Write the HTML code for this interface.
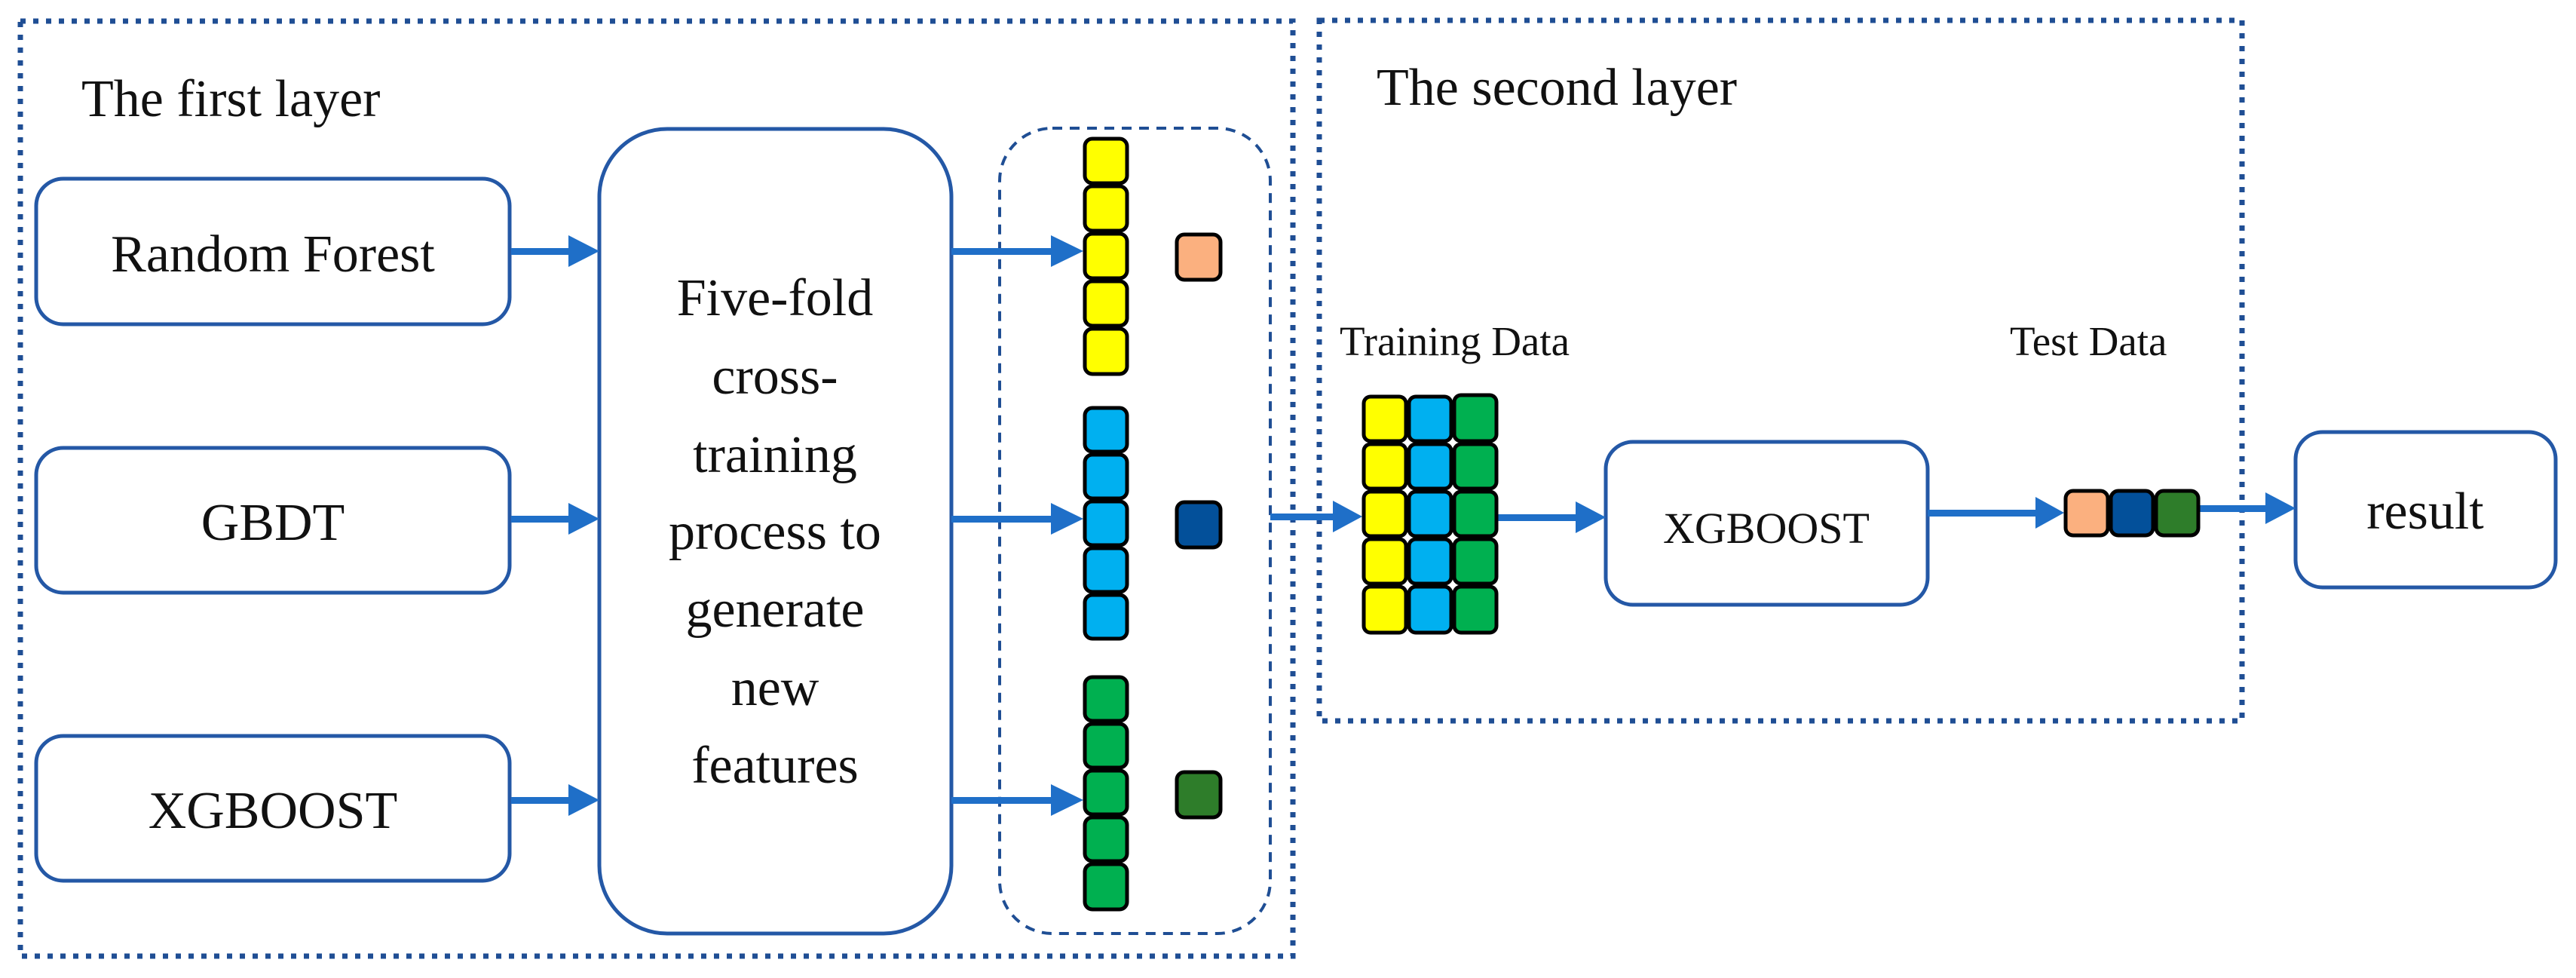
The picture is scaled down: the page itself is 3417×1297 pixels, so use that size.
<!DOCTYPE html>
<html><head><meta charset="utf-8"><style>
html,body{margin:0;padding:0;background:#fff;}
svg{display:block;}
text{font-family:"Liberation Serif",serif;fill:#111;}
</style></head><body>
<svg width="3417" height="1297" viewBox="0 0 3417 1297" xmlns="http://www.w3.org/2000/svg">
<defs>
<marker id="ah" markerWidth="10" markerHeight="10" refX="0" refY="5" orient="auto" markerUnits="userSpaceOnUse" viewBox="0 0 10 10">
</marker>
</defs>
<!-- dotted layer boxes -->
<rect x="27" y="28" width="1688" height="1240" fill="none" stroke="#1f4e94" stroke-width="7" stroke-dasharray="7 10"/>
<rect x="1750" y="27" width="1224" height="929" fill="none" stroke="#1f4e94" stroke-width="7" stroke-dasharray="7 10"/>

<text x="108" y="154" font-size="70">The first layer</text>
<text x="1826" y="139" font-size="70">The second layer</text>

<!-- left boxes -->
<g fill="#fff" stroke="#2458a6" stroke-width="5">
<rect x="48" y="237" width="628" height="193" rx="36"/>
<rect x="48" y="594" width="628" height="192" rx="36"/>
<rect x="48" y="976" width="628" height="192" rx="36"/>
<rect x="795" y="171" width="467" height="1067" rx="90"/>
<rect x="2130" y="586" width="427" height="216" rx="36"/>
<rect x="3045" y="573" width="345" height="206" rx="36"/>
</g>
<rect x="1326" y="170" width="359" height="1068" rx="70" fill="none" stroke="#1f4e94" stroke-width="4" stroke-dasharray="13 10"/>

<g font-size="70" text-anchor="middle">
<text x="362" y="360">Random Forest</text>
<text x="362" y="716">GBDT</text>
<text x="362" y="1098">XGBOOST</text>
<text x="1028" y="418">Five-fold</text>
<text x="1028" y="522">cross-</text>
<text x="1028" y="626">training</text>
<text x="1028" y="728">process to</text>
<text x="1028" y="831">generate</text>
<text x="1028" y="935">new</text>
<text x="1028" y="1038">features</text>
<text x="2343" y="720" font-size="58">XGBOOST</text>
<text x="3217" y="701">result</text>
</g>
<text x="1777" y="471" font-size="55">Training Data</text>
<text x="2666" y="471" font-size="55">Test Data</text>

<!-- arrows -->
<g fill="#1f6fc8" stroke="none">
<rect x="678" y="329" width="80" height="9"/><polygon points="754,312 795,333 754,354"/>
<rect x="678" y="684" width="80" height="9"/><polygon points="754,667 795,688 754,709"/>
<rect x="678" y="1057" width="80" height="9"/><polygon points="754,1040 795,1061 754,1082"/>
<rect x="1262" y="329" width="136" height="9"/><polygon points="1394,312 1437,333 1394,354"/>
<rect x="1262" y="684" width="136" height="9"/><polygon points="1394,667 1437,688 1394,709"/>
<rect x="1262" y="1057" width="136" height="9"/><polygon points="1394,1040 1437,1061 1394,1082"/>
<rect x="1685" y="681" width="86" height="9"/><polygon points="1768,664 1807,685 1768,706"/>
<rect x="1987" y="682" width="105" height="9"/><polygon points="2090,665 2130,686 2090,707"/>
<rect x="2557" y="676" width="145" height="9"/><polygon points="2700,659 2738,680 2700,701"/>
<rect x="2918" y="670" width="90" height="9"/><polygon points="3005,653 3045,674 3005,695"/>
</g>

<!-- cells -->
<g stroke="#000" stroke-width="5">
<g fill="#ffff00">
<rect x="1439" y="184" width="56" height="59" rx="10"/>
<rect x="1439" y="247" width="56" height="59" rx="10"/>
<rect x="1439" y="310" width="56" height="59" rx="10"/>
<rect x="1439" y="373" width="56" height="59" rx="10"/>
<rect x="1439" y="436" width="56" height="60" rx="10"/>
</g>
<g fill="#00b0f0">
<rect x="1439" y="541" width="56" height="58" rx="10"/>
<rect x="1439" y="603" width="56" height="58" rx="10"/>
<rect x="1439" y="665" width="56" height="58" rx="10"/>
<rect x="1439" y="727" width="56" height="58" rx="10"/>
<rect x="1439" y="789" width="56" height="58" rx="10"/>
</g>
<g fill="#00b050">
<rect x="1439" y="898" width="56" height="58" rx="10"/>
<rect x="1439" y="960" width="56" height="58" rx="10"/>
<rect x="1439" y="1022" width="56" height="58" rx="10"/>
<rect x="1439" y="1084" width="56" height="58" rx="10"/>
<rect x="1439" y="1146" width="56" height="60" rx="10"/>
</g>
<rect x="1561" y="311" width="58" height="60" rx="10" fill="#fbb07f"/>
<rect x="1561" y="666" width="58" height="60" rx="10" fill="#03509a"/>
<rect x="1561" y="1024" width="58" height="60" rx="10" fill="#2e7d2a"/>

<!-- training grid -->
<g fill="#ffff00">
<rect x="1809" y="526" width="56" height="59" rx="9"/><rect x="1809" y="589" width="56" height="59" rx="9"/><rect x="1809" y="652" width="56" height="59" rx="9"/><rect x="1809" y="715" width="56" height="59" rx="9"/><rect x="1809" y="778" width="56" height="61" rx="9"/>
</g>
<g fill="#00b0f0">
<rect x="1869" y="526" width="56" height="59" rx="9"/><rect x="1869" y="589" width="56" height="59" rx="9"/><rect x="1869" y="652" width="56" height="59" rx="9"/><rect x="1869" y="715" width="56" height="59" rx="9"/><rect x="1869" y="778" width="56" height="61" rx="9"/>
</g>
<g fill="#00b050">
<rect x="1929" y="524" width="56" height="61" rx="9"/><rect x="1929" y="589" width="56" height="59" rx="9"/><rect x="1929" y="652" width="56" height="59" rx="9"/><rect x="1929" y="715" width="56" height="59" rx="9"/><rect x="1929" y="778" width="56" height="61" rx="9"/>
</g>
<!-- test -->
<rect x="2740" y="651" width="56" height="59" rx="10" fill="#fbb07f"/>
<rect x="2800" y="651" width="56" height="59" rx="10" fill="#03509a"/>
<rect x="2860" y="651" width="56" height="59" rx="10" fill="#2e7d2a"/>
</g>
</svg>
</body></html>
